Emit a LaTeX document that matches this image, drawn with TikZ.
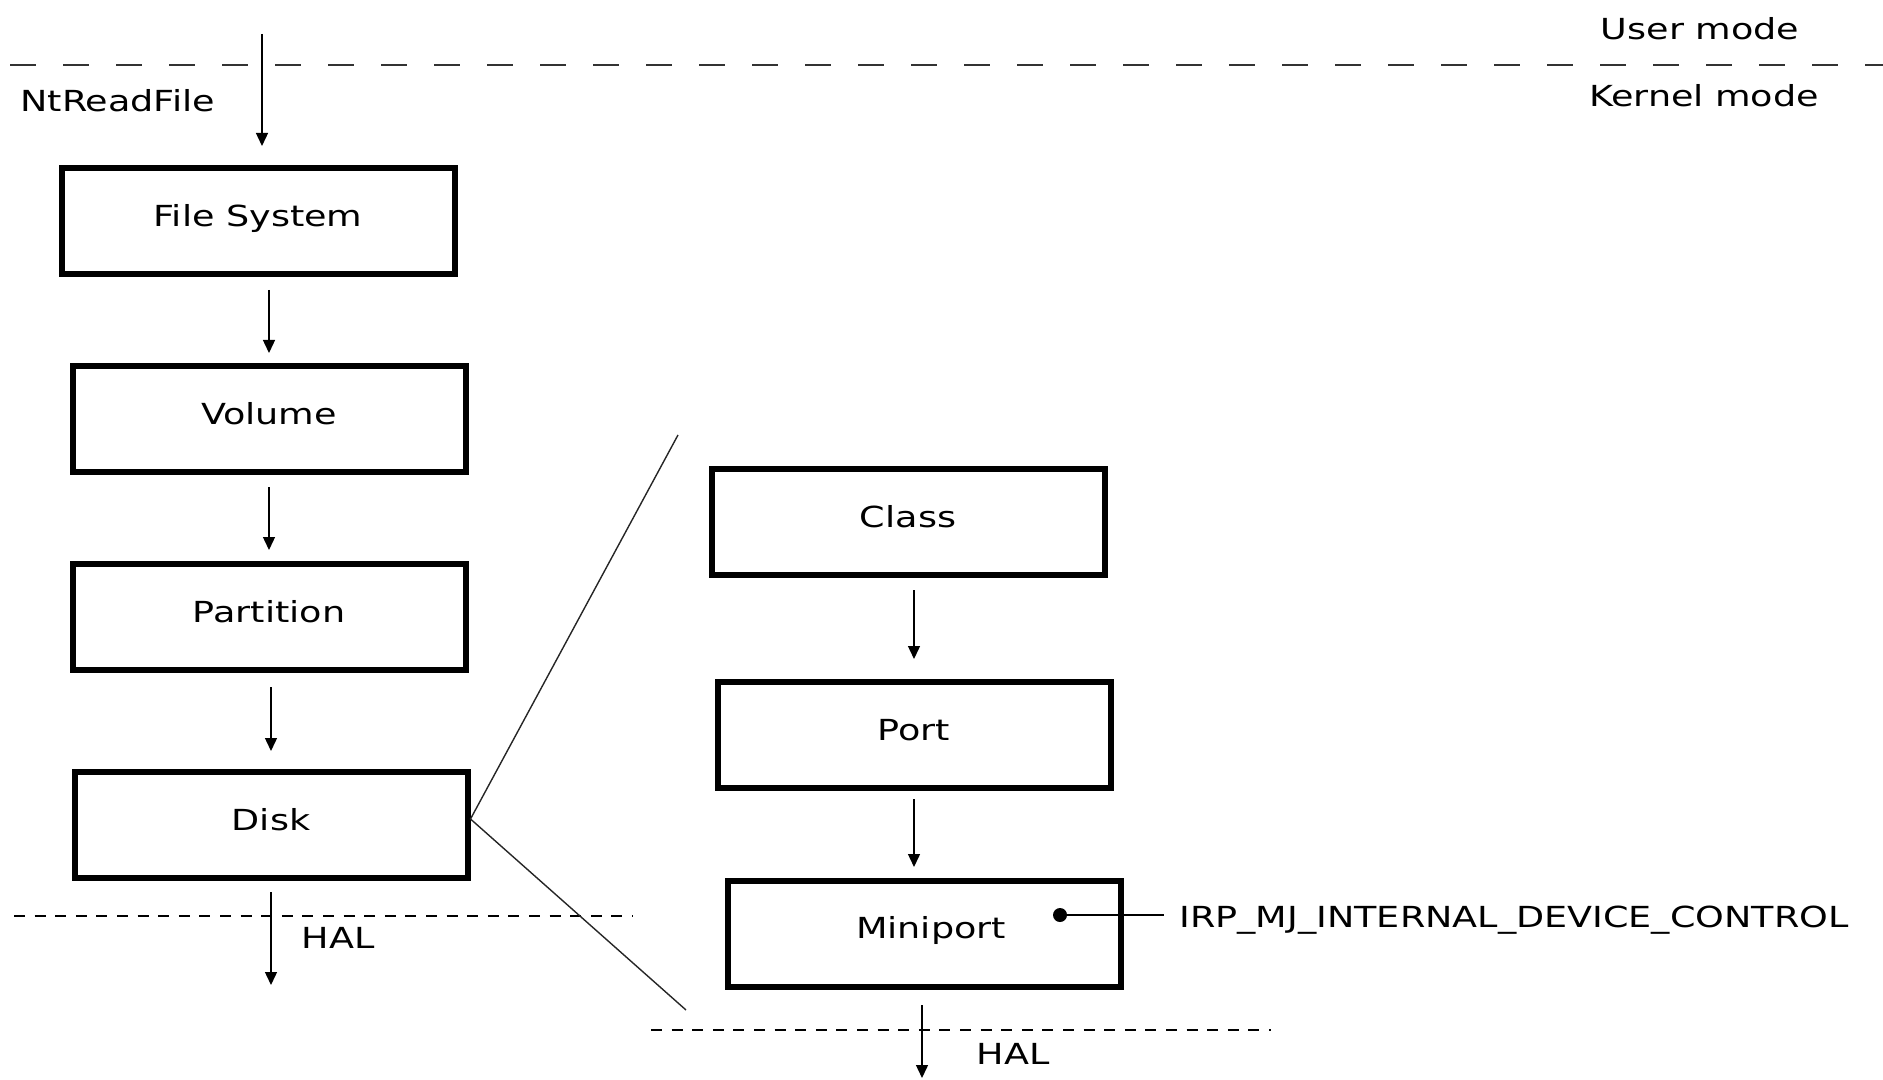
\documentclass[tikz,border=0pt]{standalone}
\usepackage{fontspec}
\setmainfont{DejaVu Sans}[FakeStretch=1.26]
\usetikzlibrary{arrows.meta}

\tikzset{
  layer/.style={draw, line width=3pt, minimum width=196.5pt, minimum height=53pt, inner sep=0pt,
    text height=0.75em, text depth=0.22em},
  flow/.style={-{Triangle[length=6.5pt,width=6pt]}, line width=0.7pt},
  txt/.style={anchor=base, inner sep=0pt},
  hal/.style={line width=1pt, dash pattern=on 5.5pt off 4.8pt},
  zoomline/.style={line width=0.7pt, black!85},
  dot/.style={circle, fill, inner sep=0pt, minimum size=7pt},
}

\begin{document}
\begin{tikzpicture}[x=0.5pt, y=-0.5pt, font=\fontsize{14.5pt}{17pt}\selectfont]
\useasboundingbox (0,0) rectangle (1883,1080);

% user / kernel boundary
\draw[line width=1pt, black!80, dash pattern=on 13pt off 13.5pt] (10,65) -- (1883,65);
\node[txt] (user) at (1700,40) {User mode};
\node[txt] (kernel) at (1704,107) {Kernel mode};
\node[txt, anchor=base west] (call) at (20,112) {NtReadFile};

% driver stack
\node[layer] (fs) at (258,221) {File System};
\node[layer] (vol) at (269,419) {Volume};
\node[layer] (part) at (269,617) {Partition};
\node[layer] (disk) at (271,825) {Disk};

% disk driver in detail
\node[layer] (class) at (908,522) {Class};
\node[layer] (port) at (914,735) {Port};
\node[layer, text depth=0.3em] (mini) at (924,934) {\hspace{7pt}Miniport};

\coordinate (entry) at (262,34);
\coordinate (out1) at (271,985);
\coordinate (out2) at (922,1078);
\draw[flow, shorten >=9.5pt] (entry) -- (entry |- fs.north);
\draw[flow, shorten <=6.5pt, shorten >=5pt] (fs.south -| vol.north) -- (vol.north);
\draw[flow, shorten <=6pt, shorten >=5.5pt] (vol.south -| part.north) -- (part.north);
\draw[flow, shorten <=7pt, shorten >=9pt] (part.south -| disk.north) -- (disk.north);
\draw[flow, shorten <=5.5pt] (disk.south) -- (out1);
\draw[flow, shorten <=6pt, shorten >=10pt] (class.south -| port.north) -- (port.north);
\draw[flow, shorten <=4pt, shorten >=5.5pt] (port.south) -- (port.south |- mini.north);
\draw[flow, shorten <=7.5pt] (out2 |- mini.south) -- (out2);

% HAL boundaries
\draw[hal] (14,916) -- (633,916);
\node[txt] (hal1) at (338,948) {HAL};
\draw[hal] (651,1030) -- (1271,1030);
\node[txt] (hal2) at (1013,1064) {HAL};

% zoom from Disk to its parts
\coordinate (zoomtop) at (678,435);
\coordinate (zoombot) at (686,1010);
\draw[zoomline] (zoomtop) -- ([yshift=3pt]disk.east) -- (zoombot);

% request entering the miniport
\node[dot] (tap) at (1060,915) {};
\node[txt, anchor=base west] (irp) at (1179,927) {IRP\_MJ\_INTERNAL\_DEVICE\_CONTROL};
\draw[line width=0.7pt, shorten >=7.5pt] (tap) -- (tap -| irp.west);
\end{tikzpicture}
\end{document}
